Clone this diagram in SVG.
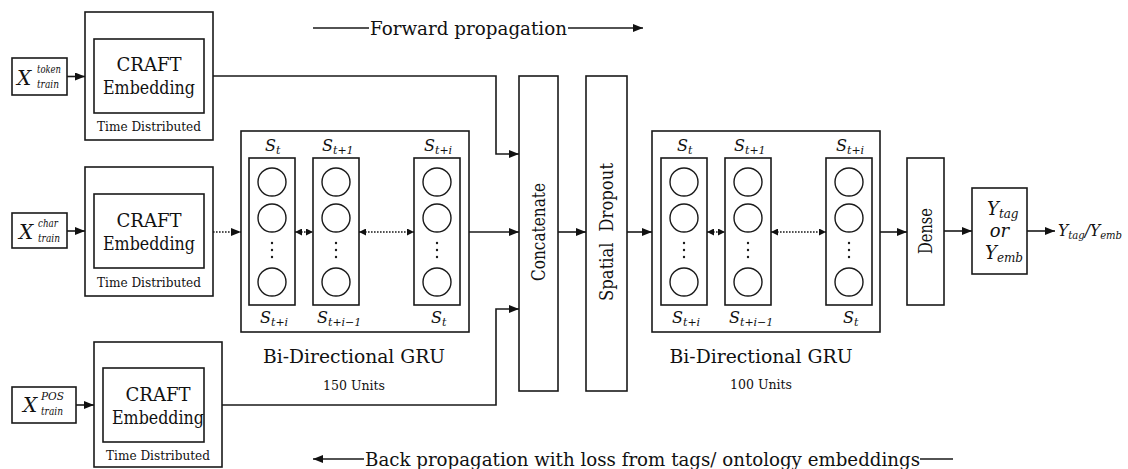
<svg xmlns="http://www.w3.org/2000/svg" width="1128" height="469" viewBox="0 0 1128 469">
  <style>
    rect { fill: #fff; stroke: #1a1a1a; stroke-width: 1.6; }
    circle { fill: #fff; stroke: #1a1a1a; stroke-width: 1.4; }
    .dot { fill: #1a1a1a; stroke: none; }
    text { font-family: "DejaVu Serif", "Liberation Serif", serif; fill: #111; }
    .mi { font-style: italic; }
    .lbl { font-size: 18px; text-anchor: middle; }
    .td { font-size: 12px; text-anchor: middle; }
    .units { font-size: 13px; text-anchor: middle; }
    .wire { fill: none; stroke: #1a1a1a; stroke-width: 1.6; }
    .arr { marker-end: url(#ah); }
    .dots { fill: none; stroke: #1a1a1a; stroke-width: 1.6; stroke-dasharray: 1.6 1.4; }
    .bi { marker-start: url(#sh); marker-end: url(#sh); }
  </style>
  <defs>
    <marker id="ah" viewBox="0 0 10 8" refX="10" refY="4" markerWidth="10" markerHeight="8" markerUnits="userSpaceOnUse" orient="auto-start-reverse">
      <path d="M0,0 L10,4 L0,8 z" fill="#111"/>
    </marker>
    <marker id="sh" viewBox="0 0 7 7" refX="7" refY="3.5" markerWidth="7" markerHeight="7" markerUnits="userSpaceOnUse" orient="auto-start-reverse">
      <path d="M0,0 L7,3.5 L0,7 z" fill="#111"/>
    </marker>
    <!-- one GRU unit column with three nodes and a vertical ellipsis -->
    <g id="col">
      <rect x="0" y="0" width="46" height="147"/>
      <circle cx="23" cy="24" r="14"/>
      <circle cx="23" cy="60" r="14"/>
      <circle class="dot" cx="23" cy="85" r="1.2"/>
      <circle class="dot" cx="23" cy="92" r="1.2"/>
      <circle class="dot" cx="23" cy="99" r="1.2"/>
      <circle cx="23" cy="124" r="14"/>
    </g>
  </defs>

  <!-- propagation direction captions -->
  <g id="forward-caption">
    <line class="wire" x1="313" y1="28" x2="369" y2="28"/>
    <text x="370" y="35" font-size="19" textLength="197" lengthAdjust="spacingAndGlyphs">Forward propagation</text>
    <line class="wire arr" x1="568" y1="28" x2="643" y2="28"/>
  </g>
  <g id="backward-caption">
    <line class="wire arr" x1="364" y1="459" x2="313" y2="459"/>
    <text x="365" y="466" font-size="19" textLength="555" lengthAdjust="spacingAndGlyphs">Back propagation with loss from tags/ ontology embeddings</text>
    <line class="wire" x1="920" y1="459" x2="953" y2="459"/>
  </g>

  <!-- inputs -->
  <g id="x-token">
    <rect x="12" y="58" width="55" height="37"/>
    <text class="mi" x="17" y="85" font-size="20">X</text>
    <text class="mi" x="37" y="73" font-size="11" textLength="24" lengthAdjust="spacingAndGlyphs">token</text>
    <text class="mi" x="37" y="88" font-size="11" textLength="22" lengthAdjust="spacingAndGlyphs">train</text>
  </g>
  <g id="x-char">
    <rect x="12" y="213" width="55" height="35"/>
    <text class="mi" x="19" y="239" font-size="20">X</text>
    <text class="mi" x="38" y="227" font-size="11" textLength="20" lengthAdjust="spacingAndGlyphs">char</text>
    <text class="mi" x="38" y="242" font-size="11" textLength="22" lengthAdjust="spacingAndGlyphs">train</text>
  </g>
  <g id="x-pos">
    <rect x="12" y="387" width="64" height="36"/>
    <text class="mi" x="23" y="412" font-size="20">X</text>
    <text class="mi" x="41" y="400" font-size="11" textLength="23" lengthAdjust="spacingAndGlyphs">POS</text>
    <text class="mi" x="41" y="415" font-size="11" textLength="22" lengthAdjust="spacingAndGlyphs">train</text>
  </g>

  <!-- time-distributed embeddings -->
  <g id="emb-token">
    <rect x="85" y="12" width="128" height="128"/>
    <rect x="94" y="39" width="110" height="74"/>
    <text class="lbl" x="149" y="71" textLength="65" lengthAdjust="spacingAndGlyphs">CRAFT</text>
    <text class="lbl" x="149" y="94" textLength="92" lengthAdjust="spacingAndGlyphs">Embedding</text>
    <text class="td" x="149" y="131" textLength="104" lengthAdjust="spacingAndGlyphs">Time Distributed</text>
  </g>
  <g id="emb-char">
    <rect x="85" y="167" width="128" height="129"/>
    <rect x="94" y="194" width="110" height="74"/>
    <text class="lbl" x="149" y="227" textLength="65" lengthAdjust="spacingAndGlyphs">CRAFT</text>
    <text class="lbl" x="149" y="250" textLength="92" lengthAdjust="spacingAndGlyphs">Embedding</text>
    <text class="td" x="149" y="287" textLength="104" lengthAdjust="spacingAndGlyphs">Time Distributed</text>
  </g>
  <g id="emb-pos">
    <rect x="94" y="342" width="128" height="125"/>
    <rect x="103" y="368" width="101" height="74"/>
    <text class="lbl" x="158" y="401" textLength="65" lengthAdjust="spacingAndGlyphs">CRAFT</text>
    <text class="lbl" x="158" y="424" textLength="92" lengthAdjust="spacingAndGlyphs">Embedding</text>
    <text class="td" x="158" y="460" textLength="104" lengthAdjust="spacingAndGlyphs">Time Distributed</text>
  </g>

  <!-- first bidirectional GRU layer -->
  <g id="gru-150">
    <rect x="241" y="131" width="228" height="201"/>
    <use href="#col" x="249" y="158"/>
    <use href="#col" x="313" y="158"/>
    <use href="#col" x="414" y="158"/>
    <g font-size="16" class="mi">
      <text x="265" y="151">S<tspan font-size="11" dy="3">t</tspan></text>
      <text x="322" y="151">S<tspan font-size="11" dy="3">t+1</tspan></text>
      <text x="424" y="151">S<tspan font-size="11" dy="3">t+i</tspan></text>
      <text x="260" y="323">S<tspan font-size="11" dy="3">t+i</tspan></text>
      <text x="317" y="323">S<tspan font-size="11" dy="3">t+i−1</tspan></text>
      <text x="431" y="323">S<tspan font-size="11" dy="3">t</tspan></text>
    </g>
    <text class="lbl" x="354" y="363" font-size="19" textLength="182" lengthAdjust="spacingAndGlyphs">Bi-Directional GRU</text>
    <text class="units" x="354" y="390" textLength="62" lengthAdjust="spacingAndGlyphs">150 Units</text>
  </g>

  <g id="concatenate">
    <rect x="519" y="76" width="39" height="315"/>
    <text class="lbl" font-size="17" transform="translate(544.5 232) rotate(-90)" textLength="98" lengthAdjust="spacingAndGlyphs">Concatenate</text>
  </g>
  <g id="spatial-dropout">
    <rect x="586" y="76" width="41" height="315"/>
    <text class="lbl" font-size="17" transform="translate(613 232) rotate(-90)" word-spacing="6" textLength="138" lengthAdjust="spacingAndGlyphs">Spatial Dropout</text>
  </g>

  <!-- second bidirectional GRU layer -->
  <g id="gru-100">
    <rect x="652" y="131" width="228" height="201"/>
    <use href="#col" x="661" y="158"/>
    <use href="#col" x="725" y="158"/>
    <use href="#col" x="826" y="158"/>
    <g font-size="16" class="mi">
      <text x="677" y="151">S<tspan font-size="11" dy="3">t</tspan></text>
      <text x="734" y="151">S<tspan font-size="11" dy="3">t+1</tspan></text>
      <text x="836" y="151">S<tspan font-size="11" dy="3">t+i</tspan></text>
      <text x="672" y="323">S<tspan font-size="11" dy="3">t+i</tspan></text>
      <text x="729" y="323">S<tspan font-size="11" dy="3">t+i−1</tspan></text>
      <text x="843" y="323">S<tspan font-size="11" dy="3">t</tspan></text>
    </g>
    <text class="lbl" x="761" y="363" font-size="19" textLength="183" lengthAdjust="spacingAndGlyphs">Bi-Directional GRU</text>
    <text class="units" x="761" y="389" textLength="62" lengthAdjust="spacingAndGlyphs">100 Units</text>
  </g>

  <g id="dense">
    <rect x="907" y="158" width="37" height="147"/>
    <text class="lbl" font-size="17" transform="translate(932 231) rotate(-90)" textLength="46" lengthAdjust="spacingAndGlyphs">Dense</text>
  </g>

  <g id="output-select">
    <rect x="972" y="188" width="55" height="86"/>
    <text class="mi" x="987" y="215" font-size="18">Y<tspan font-size="12" dy="3">tag</tspan></text>
    <text class="mi" x="999.5" y="237" font-size="18" text-anchor="middle">or</text>
    <text class="mi" x="985" y="259" font-size="18">Y<tspan font-size="12" dy="3">emb</tspan></text>
  </g>

  <g id="output-label">
    <text class="mi" x="1058" y="236" font-size="17" textLength="64" lengthAdjust="spacingAndGlyphs">Y<tspan font-size="11" dy="3">tag</tspan><tspan dy="-3">/Y</tspan><tspan font-size="11" dy="3">emb</tspan></text>
  </g>

  <!-- connectors -->
  <g id="connectors">
    <line class="wire arr" x1="67" y1="76.5" x2="85" y2="76.5"/>
    <line class="wire arr" x1="67" y1="231" x2="85" y2="231"/>
    <line class="wire arr" x1="76" y1="405" x2="94" y2="405"/>

    <polyline class="wire arr" points="213,76 496,76 496,154 519,154"/>
    <line class="dots arr" x1="213" y1="232" x2="241" y2="232"/>
    <polyline class="wire arr" points="222,405 496,405 496,309 519,309"/>

    <line class="dots bi" x1="295" y1="232" x2="313" y2="232"/>
    <line class="dots bi" x1="359" y1="232" x2="414" y2="232"/>

    <line class="wire arr" x1="469" y1="232" x2="519" y2="232"/>
    <line class="wire arr" x1="558" y1="232" x2="586" y2="232"/>
    <line class="wire arr" x1="627" y1="232" x2="652" y2="232"/>

    <line class="dots bi" x1="707" y1="232" x2="725" y2="232"/>
    <line class="dots bi" x1="771" y1="232" x2="826" y2="232"/>

    <line class="wire arr" x1="880" y1="232" x2="907" y2="232"/>
    <line class="wire arr" x1="944" y1="231" x2="972" y2="231"/>
    <line class="wire arr" x1="1027" y1="231" x2="1055" y2="231"/>
  </g>
</svg>
